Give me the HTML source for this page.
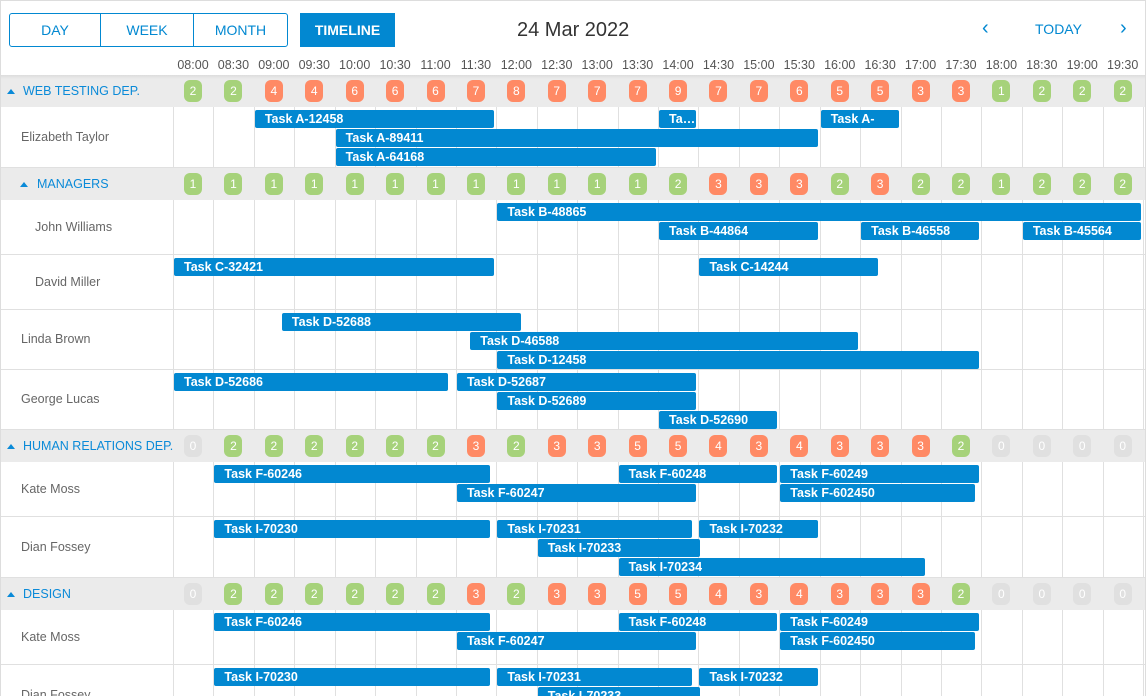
<!DOCTYPE html>
<html style="width:1146px;height:696px;overflow:hidden"><head><meta charset="utf-8"><style>
*{box-sizing:border-box;margin:0;padding:0}
body{width:1146px;height:696px;overflow:hidden;background:#fff;font-family:"Liberation Sans",sans-serif;position:relative}
.abs{position:absolute}
.btn{position:absolute;top:13px;height:34px;border:1px solid #0288d1;color:#0288d1;font-size:14px;display:flex;align-items:center;justify-content:center;background:#fff}
.tick{position:absolute;top:58px;font-size:12.5px;color:#555;width:40px;text-align:center}
.grp{position:absolute;left:0;width:1146px;background:#ebebeb}
.glabel{position:absolute;left:22px;font-size:12.5px;color:#0a8ad8}
.tri{position:absolute;left:7px;width:0;height:0;border-left:4px solid transparent;border-right:4px solid transparent;border-bottom:5px solid #0a8ad8}
.badge{position:absolute;width:18px;height:22px;border-radius:6px;color:#fff;font-size:12px;display:flex;align-items:center;justify-content:center}
.name{position:absolute;font-size:12.5px;color:#666}
.vl{position:absolute;width:1px;background:#e0e0e0}
.hl{position:absolute;left:0;width:1146px;height:1px;background:#e0e0e0}
.bar{position:absolute;height:18px;background:#0288d1;color:#fff;font-size:12.5px;font-weight:bold;padding-left:10px;line-height:18px;border-radius:2px;white-space:nowrap;overflow:hidden}
</style></head><body>
<div class="abs" style="left:0;top:0;width:1146px;height:696px;border:1px solid #ddd;border-bottom:none;z-index:10;pointer-events:none"></div>
<div class="btn" style="left:9px;width:92px;border-radius:3px 0 0 3px">DAY</div>
<div class="btn" style="left:100px;width:94px">WEEK</div>
<div class="btn" style="left:193px;width:95px;border-radius:0 3px 3px 0">MONTH</div>
<div class="btn" style="left:300px;width:95px;background:#0288d1;color:#fff;font-weight:bold">TIMELINE</div>
<div class="abs" style="left:517px;top:19px;font-size:20px;color:#333">24 Mar 2022</div>
<div class="abs" style="left:982px;top:17px;font-size:20px;color:#0288d1">‹</div>
<div class="abs" style="left:1035px;top:21px;font-size:14px;color:#0288d1">TODAY</div>
<div class="abs" style="left:1120px;top:17px;font-size:20px;color:#0288d1">›</div>
<div id="root"></div>
<script>
const ticks=["08:00","08:30","09:00","09:30","10:00","10:30","11:00","11:30","12:00","12:30","13:00","13:30","14:00","14:30","15:00","15:30","16:00","16:30","17:00","17:30","18:00","18:30","19:00","19:30"];
const countsWeb=[2,2,4,4,6,6,6,7,8,7,7,7,9,7,7,6,5,5,3,3,1,2,2,2];
const countsMgr=[1,1,1,1,1,1,1,1,1,1,1,1,2,3,3,3,2,3,2,2,1,2,2,2];
const countsHR=[0,2,2,2,2,2,2,3,2,3,3,5,5,4,3,4,3,3,3,2,0,0,0,0];
const countsDes=[0,2,2,2,2,2,2,3,2,3,3,5,5,4,3,4,3,3,3,2,0,0,0,0];
const groups=[
 {label:"WEB TESTING DEP.",counts:countsWeb,people:[
  {name:"Elizabeth Taylor",h:61,ind:21,ev:[["Task A-12458",2,8,0],["Ta…",12,13,0],["Task A-",16,18,0],["Task A-89411",4,16,1],["Task A-64168",4,12,2]]}]},
 {label:"MANAGERS",counts:countsMgr,ind:true,people:[
  {name:"John Williams",h:55,ind:35,ev:[["Task B-48865",8,24,0],["Task B-44864",12,16,1],["Task B-46558",17,20,1],["Task B-45564",21,24,1]]},
  {name:"David Miller",h:55,ind:35,ev:[["Task C-32421",0,8,0],["Task C-14244",13,17.5,0]]},
  {name:"Linda Brown",h:60,ind:21,ev:[["Task D-52688",2.67,8.67,0],["Task D-46588",7.33,17,1],["Task D-12458",8,20,2]]},
  {name:"George Lucas",h:60,ind:21,ev:[["Task D-52686",0,6.85,0],["Task D-52687",7,13,0],["Task D-52689",8,13,1],["Task D-52690",12,15,2]]}]},
 {label:"HUMAN RELATIONS DEP.",counts:countsHR,people:[
  {name:"Kate Moss",h:55,ind:21,ev:[["Task F-60246",1,7.9,0],["Task F-60248",11,15,0],["Task F-60249",15,20,0],["Task F-60247",7,13,1],["Task F-602450",15,19.9,1]]},
  {name:"Dian Fossey",h:61,ind:21,ev:[["Task I-70230",1,7.9,0],["Task I-70231",8,12.9,0],["Task I-70232",13,16,0],["Task I-70233",9,13.1,1],["Task I-70234",11,18.65,2]]}]},
 {label:"DESIGN",counts:countsDes,people:[
  {name:"Kate Moss",h:55,ind:21,ev:[["Task F-60246",1,7.9,0],["Task F-60248",11,15,0],["Task F-60249",15,20,0],["Task F-60247",7,13,1],["Task F-602450",15,19.9,1]]},
  {name:"Dian Fossey",h:61,ind:21,ev:[["Task I-70230",1,7.9,0],["Task I-70231",8,12.9,0],["Task I-70232",13,16,0],["Task I-70233",9,13.1,1],["Task I-70234",11,18.65,2]]}]}
];
const X0=173,CW=40.42,H=696;
const x=c=>X0+c*CW;
const root=document.getElementById('root');
function add(cls,style,text){const d=document.createElement('div');d.className=cls;d.style.cssText=style;if(text!=null)d.textContent=text;root.appendChild(d);return d;}
ticks.forEach((t,i)=>{const d=add('tick',`left:${x(i)}px`,t);

});
const sh=add('abs','left:0;top:75px;width:1146px;height:4px;background:linear-gradient(#ddd,rgba(255,255,255,0));z-index:5');


let y=75;
function color(n){return n===0?'#e0e0e0':(n<=2?'#a6d27a':'#ff8a65');}
groups.forEach(g=>{
 const gr=add('grp',`top:${y}px;height:32px`);
 
 
 const tri=add('tri',`top:${y+14}px;left:${g.ind?20:7}px`);
 
 
 const gl=add('glabel',`top:${y+9}px;left:${g.ind?37:23}px`,g.label);
 
 
 g.counts.forEach((n,i)=>{const b=add('badge',`left:${x(i)+11}px;top:${y+5}px;background:${color(n)}`,n);
  
  });
 y+=32;
 g.people.forEach(p=>{
  const hh=Math.min(p.h,H-y);
  const nm=add('name',`left:${p.ind}px;top:${y+p.h/2-8}px`,p.name);
  
  
  for(let i=0;i<=24;i++){const v=add('vl',`left:${Math.round(x(i))}px;top:${y}px;height:${hh}px`);
   
   }
  const h=add('hl',`top:${y+p.h-1}px`);
  
  
  p.ev.forEach(e=>{const b=add('bar',`left:${x(e[1])+1}px;width:${x(e[2])-x(e[1])-3}px;top:${y+3+e[3]*19}px`,e[0]);
   
   });
  y+=p.h;
 });
});
</script>
</body></html>
